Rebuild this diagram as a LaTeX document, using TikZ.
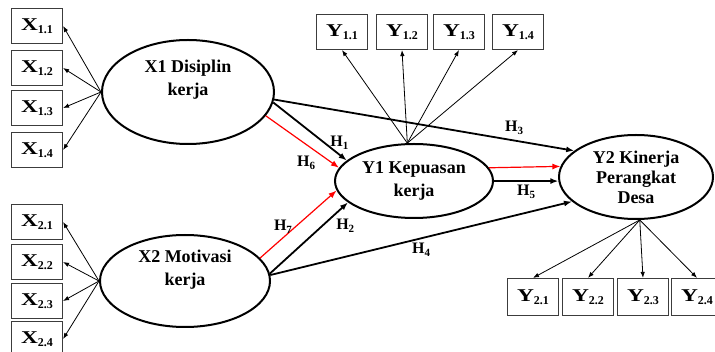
\documentclass[tikz,border=0pt]{standalone}
\usepackage{fontspec}
\setmainfont{Liberation Serif}
\newfontfamily\wideserif[FakeStretch=1.3]{Liberation Serif}
\usetikzlibrary{arrows.meta,shapes.geometric}
\definecolor{boxline}{RGB}{60,60,60}
\newcommand{\indi}[2]{{\wideserif\bfseries #1}\raisebox{-3pt}{\fontsize{12}{12}\selectfont\bfseries #2}}
\newcommand{\hyp}[1]{H\raisebox{-3pt}{\fontsize{11}{11}\selectfont #1}}

\begin{document}
\begin{tikzpicture}[x=1pt, y=-1pt,
  latent/.style={ellipse, draw, line width=2pt, inner sep=0pt, align=center,
    font=\fontsize{18}{23}\selectfont\bfseries},
  ltext/.style={align=center, font=\fontsize{18}{23}\selectfont\bfseries},
  indicator/.style={rectangle, draw=boxline, line width=1.2pt, minimum width=51pt,
    minimum height=35pt, inner sep=0pt, font=\fontsize{18}{18}\selectfont},
  load/.style={-{Latex[length=6pt,width=4.5pt]}, line width=0.8pt},
  effect/.style={-{Latex[length=8pt,width=6pt]}, line width=1.8pt},
  mediate/.style={-{Latex[length=8pt,width=6pt]}, red, line width=1.2pt},
  hlabel/.style={text=black, font=\fontsize{16}{16}\selectfont\bfseries, inner sep=1pt}]
  \useasboundingbox (0,0) rectangle (715,352);

  % latent variables
  \node[latent, minimum width=172pt, minimum height=104pt,
        label={[ltext, yshift=12pt]center:X1 Disiplin\\kerja}] (x1) at (188,92) {};
  \node[latent, minimum width=170pt, minimum height=92pt,
        label={[ltext, yshift=11pt]center:X2 Motivasi\\kerja}] (x2) at (185,281) {};
  \node[latent, minimum width=158pt, minimum height=74pt] (y1) at (414,181) {Y1 Kepuasan\\kerja};
  \node[latent, minimum width=154pt, minimum height=84pt,
        font=\fontsize{18}{20}\selectfont\bfseries] (y2) at (636,177) {Y2 Kinerja\\Perangkat\\Desa};

  % indicators
  \node[indicator] (x11) at (37,26) {\indi{X}{1.1}};
  \node[indicator] (x12) at (37,68) {\indi{X}{1.2}};
  \node[indicator] (x13) at (37,108) {\indi{X}{1.3}};
  \node[indicator] (x14) at (37,150) {\indi{X}{1.4}};
  \node[indicator] (x21) at (37,222) {\indi{X}{2.1}};
  \node[indicator] (x22) at (37,262) {\indi{X}{2.2}};
  \node[indicator] (x23) at (37,301) {\indi{X}{2.3}};
  \node[indicator] (x24) at (37,339) {\indi{X}{2.4}};
  \node[indicator] (y11) at (342,32) {\indi{Y}{1.1}};
  \node[indicator] (y12) at (402,32) {\indi{Y}{1.2}};
  \node[indicator] (y13) at (459,32) {\indi{Y}{1.3}};
  \node[indicator] (y14) at (518,32) {\indi{Y}{1.4}};
  \node[indicator, minimum height=37pt] (y21) at (533,297) {\indi{Y}{2.1}};
  \node[indicator, minimum height=37pt] (y22) at (588,297) {\indi{Y}{2.2}};
  \node[indicator, minimum height=37pt] (y23) at (643,297) {\indi{Y}{2.3}};
  \node[indicator, minimum height=37pt] (y24) at (697,297) {\indi{Y}{2.4}};

  \foreach \i in {1,...,4} {
    \draw[load] (x1.west) -- (x1\i.east);
    \draw[load] (x2.west) -- (x2\i.east);
    \draw[load] (y1.100) -- (y1\i.south);
    \draw[load] (y2.-85) -- (y2\i.north);
  }

  % hypotheses
  \draw[effect] (x1.-7) -- node[pos=.9, above, yshift=3pt, hlabel] (h1) {\hyp{1}} (y1.163);
  \draw[effect] (x2.5) -- node[pos=.8, below right, xshift=2pt, hlabel] (h2) {\hyp{2}} (y1.198);
  \draw[effect] (x1.-5) -- node[pos=.8, above, yshift=4pt, hlabel] (h3) {\hyp{3}} (y2.157);
  \draw[effect] (x2.4) -- node[pos=.5, below, yshift=-3pt, hlabel] (h4) {\hyp{4}} (y2.201);
  \draw[effect] (y1.0) -- node[midway, below, yshift=-2pt, hlabel] (h5) {\hyp{5}} (y2.183);
  \draw[mediate] (x1.-17) -- node[pos=.55, below, yshift=-10pt, hlabel] (h6) {\hyp{6}} (y1.170);
  \draw[mediate] (x2.17) -- node[pos=.3, above, yshift=3pt, hlabel] (h7) {\hyp{7}} (y1.187);
  \draw[mediate] (y1.10) -- (y2.172);
\end{tikzpicture}
\end{document}
